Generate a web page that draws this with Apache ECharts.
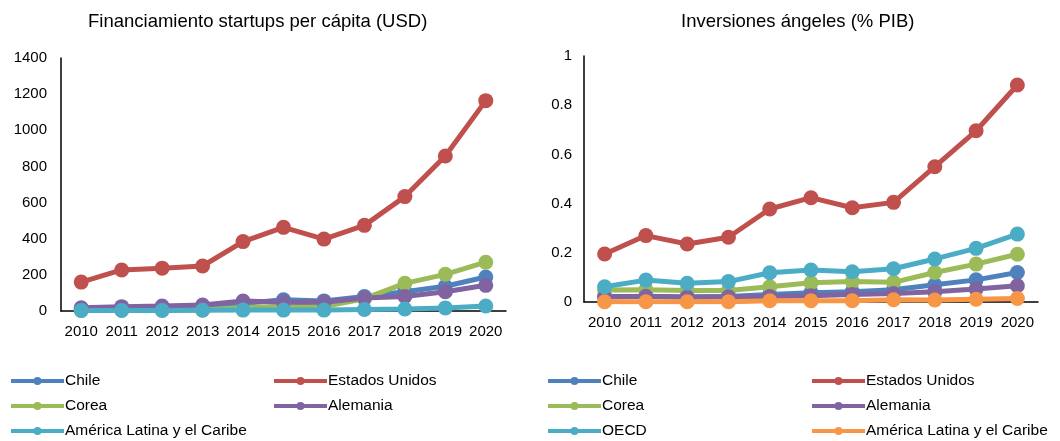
<!DOCTYPE html>
<html>
<head>
<meta charset="utf-8">
<script src="https://cdn.jsdelivr.net/npm/echarts@6/dist/echarts.min.js"></script>
<style>
  html, body { margin: 0; padding: 0; background: #fff; }
  #chart { width: 1060px; height: 441px; }
</style>
</head>
<body>
<div id="chart"></div>
<script>
// años (eje x, compartido)
const years = ['2010', '2011', '2012', '2013', '2014', '2015', '2016', '2017', '2018', '2019', '2020'];

// panel izquierdo: financiamiento startups per cápita (USD)
const finChile = [12, 16, 19, 22, 42, 62, 56, 80, 107, 137, 188];
const finEEUU = [160, 227, 237, 249, 384, 463, 398, 474, 633, 858, 1164];
const finCorea = [3, 4, 5, 6, 20, 25, 25, 68, 153, 203, 270];
const finAlemania = [18, 24, 28, 33, 55, 48, 48, 72, 80, 107, 142];
const finALC = [3, 3, 3, 4, 5, 5, 5, 8, 11, 17, 28];

// panel derecho: inversiones ángeles (% PIB)
const angChile = [0.022, 0.022, 0.02, 0.022, 0.031, 0.038, 0.042, 0.05, 0.07, 0.09, 0.12];
const angEEUU = [0.195, 0.27, 0.236, 0.263, 0.378, 0.424, 0.383, 0.405, 0.55, 0.696, 0.882];
const angCorea = [0.049, 0.05, 0.047, 0.047, 0.062, 0.078, 0.083, 0.08, 0.12, 0.154, 0.194];
const angAlemania = [0.02, 0.023, 0.02, 0.021, 0.022, 0.025, 0.03, 0.035, 0.042, 0.053, 0.066];
const angOECD = [0.062, 0.089, 0.076, 0.083, 0.119, 0.13, 0.123, 0.135, 0.175, 0.218, 0.276];
const angALC = [0.001, 0.001, 0.001, 0.001, 0.005, 0.005, 0.005, 0.009, 0.008, 0.011, 0.014];

const BLUE = '#4F81BD', RED = '#C0504D', GREEN = '#9BBB59', PURPLE = '#8064A2', CYAN = '#4BACC6', ORANGE = '#F79646';
const FONT = 'Liberation Sans, Arial, sans-serif';

function mkSeries(name, data, color, idx) {
    return {
        name: name,
        type: 'line',
        data: data,
        xAxisIndex: idx,
        yAxisIndex: idx,
        symbol: 'circle',
        symbolSize: 15,
        lineStyle: { width: 5, color: color },
        itemStyle: { color: color },
        emphasis: { disabled: true }
    };
}

// una leyenda por elemento, para fijar columnas y filas como en el original
function mkLegend(name, left, cy) {
    return {
        left: left,
        top: cy - 9,
        padding: 0,
        data: [name],
        itemWidth: 53,
        itemHeight: 10,
        selectedMode: false,
        lineStyle: { width: 4 },
        textStyle: { fontFamily: FONT, fontSize: 15.5, color: '#000', padding: [0, 0, 0, -4] }
    };
}

const axisLineStyle = { show: true, lineStyle: { color: '#000', width: 1.5 } };
const labelStyle = { color: '#000', fontSize: 15, fontFamily: FONT };

const chart = echarts.init(document.getElementById('chart'), null, { renderer: 'canvas' });

const option = {
    animation: false,
    textStyle: { fontFamily: FONT },
    title: [
        { text: 'Financiamiento startups per cápita (USD)', left: 83, top: 7,
          textStyle: { fontFamily: FONT, fontSize: 18.5, fontWeight: 'normal', color: '#000' } },
        { text: 'Inversiones ángeles (% PIB)', left: 676, top: 7,
          textStyle: { fontFamily: FONT, fontSize: 18.5, fontWeight: 'normal', color: '#000' } }
    ],
    grid: [
        { left: 61, right: 554, top: 58, bottom: 130 },
        { left: 584, right: 22, top: 56, bottom: 139 }
    ],
    xAxis: [0, 1].map(i => ({
        type: 'category',
        gridIndex: i,
        data: years,
        boundaryGap: true,
        axisLine: axisLineStyle,
        axisTick: { show: false },
        axisLabel: Object.assign({ margin: 13, interval: 0 }, labelStyle)
    })),
    yAxis: [
        { type: 'value', gridIndex: 0, min: 0, max: 1400, interval: 200,
          axisLine: axisLineStyle, axisTick: { show: false }, splitLine: { show: false },
          axisLabel: Object.assign({ margin: 14, formatter: v => String(v) }, labelStyle) },
        { type: 'value', gridIndex: 1, min: 0, max: 1, interval: 0.2,
          axisLine: axisLineStyle, axisTick: { show: false }, splitLine: { show: false },
          axisLabel: Object.assign({ margin: 12, formatter: v => String(+v.toFixed(1)) }, labelStyle) }
    ],
    legend: [
        mkLegend('Chile', 9, 382),
        mkLegend('Corea', 9, 407),
        mkLegend('América Latina y el Caribe', 9, 432),
        mkLegend('Estados Unidos', 272, 382),
        mkLegend('Alemania', 272, 407),
        mkLegend('Chile ', 546, 382),
        mkLegend('Corea ', 546, 407),
        mkLegend('OECD', 546, 432),
        mkLegend('Estados Unidos ', 810, 382),
        mkLegend('Alemania ', 810, 407),
        mkLegend('América Latina y el Caribe ', 810, 432)
    ],
    series: [
        mkSeries('Chile', finChile, BLUE, 0),
        mkSeries('Estados Unidos', finEEUU, RED, 0),
        mkSeries('Corea', finCorea, GREEN, 0),
        mkSeries('Alemania', finAlemania, PURPLE, 0),
        mkSeries('América Latina y el Caribe', finALC, CYAN, 0),
        mkSeries('Chile ', angChile, BLUE, 1),
        mkSeries('Estados Unidos ', angEEUU, RED, 1),
        mkSeries('Corea ', angCorea, GREEN, 1),
        mkSeries('Alemania ', angAlemania, PURPLE, 1),
        mkSeries('OECD', angOECD, CYAN, 1),
        mkSeries('América Latina y el Caribe ', angALC, ORANGE, 1)
    ]
};

chart.setOption(option);
</script>
</body>
</html>
